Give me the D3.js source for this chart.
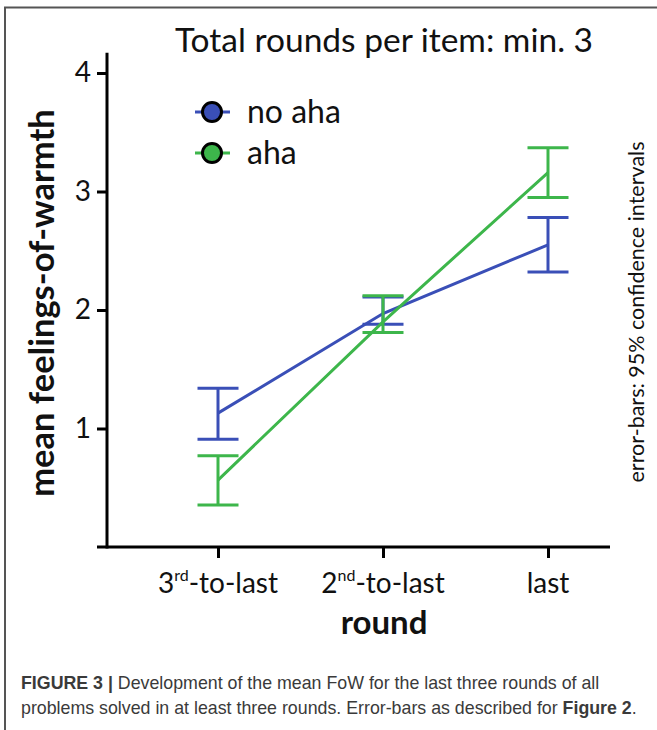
<!DOCTYPE html>
<html>
<head>
<meta charset="utf-8">
<script src="https://cdn.jsdelivr.net/npm/d3@7"></script>
<style>
  html, body { margin: 0; padding: 0; background: #fff; }
  svg { display: block; }
</style>
</head>
<body>
<svg id="chart" width="657" height="730"></svg>
<script>
// ---- data ----
const categories = ["3rd-to-last", "2nd-to-last", "last"];
const tickMain = ["3", "2", "last"];
const tickSup = ["rd", "nd", ""];
const tickRest = ["-to-last", "-to-last", ""];
const seriesNames = ["no aha", "aha"];
const noAhaMean = [1.13, 1.97, 2.55];
const noAhaLow = [0.91, 1.88, 2.32];
const noAhaHigh = [1.34, 2.11, 2.78];
const ahaMean = [0.565, 1.90, 3.16];
const ahaLow = [0.355, 1.81, 2.95];
const ahaHigh = [0.77, 2.12, 3.37];
const yTicks = [1, 2, 3, 4];
const colors = ["#3a4fb7", "#3db64b"];

const series = [
  { name: seriesNames[0], mean: noAhaMean, low: noAhaLow, high: noAhaHigh, color: colors[0] },
  { name: seriesNames[1], mean: ahaMean, low: ahaLow, high: ahaHigh, color: colors[1] }
];

const FONT = "Lato, 'Open Sans', sans-serif";
const svg = d3.select("#chart");

// frame
svg.append("path").attr("d", "M5,730 V7.5 H657").attr("fill", "none")
  .attr("stroke", "#555").attr("stroke-width", 2);

const x = d3.scalePoint().domain(categories).range([218, 548]);
const y = d3.scaleLinear().domain([0, 4]).range([547, 73]);

// title
svg.append("text").attr("x", 384).attr("y", 52).attr("text-anchor", "middle")
  .attr("font-family", FONT).attr("font-size", 33.5).attr("fill", "#111")
  .text("Total rounds per item: min. 3");

// y axis
const yAxis = d3.axisLeft(y).tickValues(yTicks).tickSize(10).tickPadding(6).tickFormat(d3.format("d"));
const gy = svg.append("g").attr("transform", "translate(107,0)").call(yAxis);
gy.select(".domain").remove();
gy.selectAll(".tick line").attr("stroke", "#000").attr("stroke-width", 3);
gy.selectAll(".tick text").attr("font-family", FONT).attr("font-size", 28).attr("fill", "#111");
svg.append("line").attr("x1", 107).attr("x2", 107).attr("y1", y(4.17)).attr("y2", y(0) + 1.5)
  .attr("stroke", "#000").attr("stroke-width", 3);

// x axis
const xAxis = d3.axisBottom(x).tickSize(11).tickFormat(() => "");
const gx = svg.append("g").attr("transform", "translate(0,547)").call(xAxis);
gx.select(".domain").remove();
gx.selectAll(".tick line").attr("stroke", "#000").attr("stroke-width", 3);
svg.append("line").attr("x1", 97).attr("x2", 610).attr("y1", 547).attr("y2", 547)
  .attr("stroke", "#000").attr("stroke-width", 3);

// x tick labels
categories.forEach((c, i) => {
  const t = svg.append("text").attr("x", x(c)).attr("y", 593).attr("text-anchor", "middle")
    .attr("font-family", FONT).attr("font-size", 28).attr("fill", "#111");
  t.append("tspan").text(tickMain[i]);
  if (tickSup[i]) {
    t.append("tspan").attr("font-size", 16).attr("dy", -12).text(tickSup[i]);
    t.append("tspan").attr("dy", 12).text(tickRest[i]);
  }
});

// axis titles
svg.append("text").attr("x", 384).attr("y", 634).attr("text-anchor", "middle")
  .attr("font-family", FONT).attr("font-size", 33).attr("font-weight", "bold").attr("fill", "#111")
  .text("round");
svg.append("text").attr("transform", "translate(54,303) rotate(-90)").attr("text-anchor", "middle")
  .attr("font-family", FONT).attr("font-size", 34.5).attr("font-weight", "bold").attr("fill", "#111")
  .text("mean feelings-of-warmth");
svg.append("text").attr("transform", "translate(644,312) rotate(-90)").attr("text-anchor", "middle")
  .attr("font-family", FONT).attr("font-size", 21.5).attr("fill", "#111")
  .text("error-bars: 95% confidence intervals");

// series
const line = d3.line().x((d, i) => x(categories[i])).y(d => y(d));
series.forEach(s => {
  const g = svg.append("g");
  categories.forEach((c, i) => {
    const cx = x(c);
    g.append("line").attr("x1", cx).attr("x2", cx).attr("y1", y(s.low[i])).attr("y2", y(s.high[i]))
      .attr("stroke", s.color).attr("stroke-width", 3);
    [s.low[i], s.high[i]].forEach(v => {
      g.append("line").attr("x1", cx - 20.5).attr("x2", cx + 20.5).attr("y1", y(v)).attr("y2", y(v))
        .attr("stroke", s.color).attr("stroke-width", 3);
    });
  });
  g.append("path").datum(s.mean).attr("d", line).attr("fill", "none")
    .attr("stroke", s.color).attr("stroke-width", 3);
});

// legend
series.forEach((s, i) => {
  const ly = 112 + i * 41;
  svg.append("line").attr("x1", 195).attr("x2", 230).attr("y1", ly).attr("y2", ly)
    .attr("stroke", s.color).attr("stroke-width", 3);
  svg.append("circle").attr("cx", 212).attr("cy", ly).attr("r", 9.5)
    .attr("fill", s.color).attr("stroke", "#000").attr("stroke-width", 3);
  svg.append("text").attr("x", 247).attr("y", ly + 11).attr("font-family", FONT)
    .attr("font-size", 32).attr("fill", "#111").text(s.name);
});

// caption
const CAP = "'Liberation Sans Narrow', 'Liberation Sans', Arial, sans-serif";
const c1 = svg.append("text").attr("x", 21).attr("y", 689).attr("font-family", CAP)
  .attr("font-size", 17.8).attr("fill", "#3a3a3a");
c1.append("tspan").attr("font-weight", "bold").text("FIGURE 3 | ");
c1.append("tspan").text("Development of the mean FoW for the last three rounds of all");
const c2 = svg.append("text").attr("x", 21).attr("y", 714).attr("font-family", CAP)
  .attr("font-size", 17.8).attr("fill", "#3a3a3a");
c2.append("tspan").text("problems solved in at least three rounds. Error-bars as described for ");
c2.append("tspan").attr("font-weight", "bold").text("Figure 2");
c2.append("tspan").text(".");
</script>
</body>
</html>
